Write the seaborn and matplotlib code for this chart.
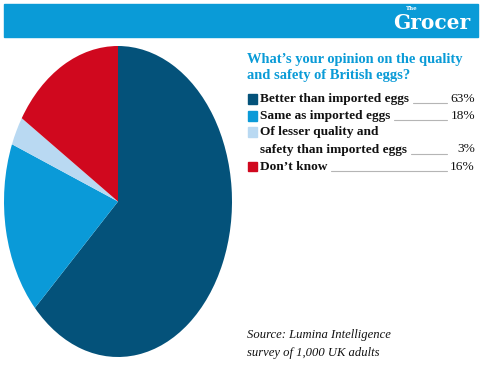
import matplotlib
matplotlib.use("Agg")
import matplotlib.pyplot as plt
import seaborn as sns
from matplotlib.lines import Line2D
from matplotlib.patches import Rectangle

# data
labels = ["Better than imported eggs", "Same as imported eggs",
          "Of lesser quality and\nsafety than imported eggs", "Don\u2019t know"]
values = [63, 18, 3, 16]
pct_labels = ["63%", "18%", "3%", "16%"]
title = "What\u2019s your opinion on the quality\nand safety of British eggs?"
source = "Source: Lumina Intelligence\nsurvey of 1,000 UK adults"

sns.set_style("white")
colors = sns.color_palette(["#04527a", "#0a9ad8", "#b9d9f2", "#d0081e"])
cyan = "#0a9bd7"

W, H = 480, 368
fig = plt.figure(figsize=(W / 100, H / 100), dpi=100)

def fx(x):
    return x / W

def fy(y):
    return 1 - y / H

renderer = fig.canvas.get_renderer()

def fit(t, width):
    w = t.get_window_extent(renderer).width
    t.set_fontsize(t.get_fontsize() * width / w)

# banner
fig.patches.append(Rectangle((fx(4), fy(37)), fx(474), 33 / H, transform=fig.transFigure,
                             color=cyan, zorder=0))
g = fig.text(fx(432), fy(23), "Grocer", color="white", fontsize=17, fontweight="bold",
             family="DejaVu Serif", ha="center", va="center")
fit(g, 77)
fig.text(fx(412), fy(8.5), "The", color="white", fontsize=4, fontweight="bold",
         family="DejaVu Serif", ha="center", va="center")

# pie (elliptical)
ax = fig.add_axes([fx(4), 1 - 357 / H, 228 / W, 311 / H])
ax.pie(values, colors=colors, startangle=90, counterclock=False, radius=1,
       wedgeprops=dict(linewidth=0))
ax.set_aspect("auto")
ax.set_xlim(-1, 1)
ax.set_ylim(-1, 1)
ax.axis("off")

# title
t1 = fig.text(fx(247), fy(59), title.split("\n")[0], color=cyan, fontsize=11,
              fontweight="bold", family="Liberation Serif", va="center")
fit(t1, 217)
fig.text(fx(247), fy(75), title.split("\n")[1], color=cyan, fontsize=t1.get_fontsize(),
         fontweight="bold", family="Liberation Serif", va="center")

# legend
rows = [99, 116, 132, 167]
sizes = None
for lab, pct, c, y in zip(labels, pct_labels, colors, rows):
    fig.patches.append(Rectangle((fx(248), fy(y + 4.5)), 9 / W, 9 / H,
                                 transform=fig.transFigure, color=c))
    lines = lab.split("\n")
    for i, line in enumerate(lines):
        t = fig.text(fx(260), fy(y + 17.5 * i), line, fontsize=10, fontweight="bold",
                     family="Liberation Serif", va="center", color="#111111")
        if sizes is None:
            fit(t, 150)
            sizes = t.get_fontsize()
        t.set_fontsize(sizes)
    ly = y + 17.5 * (len(lines) - 1)
    end = t.get_window_extent(renderer).x1
    fig.add_artist(Line2D([fx(end + 4), fx(447)], [fy(ly + 4), fy(ly + 4)],
                          transform=fig.transFigure, color="#b5b5b5", lw=0.8))
    fig.text(fx(475), fy(ly), pct, fontsize=sizes, family="Liberation Serif",
             ha="right", va="center", color="#111111")

# source
s1 = fig.text(fx(247), fy(335), source.split("\n")[0], fontsize=10, style="italic",
              family="Liberation Serif", va="center", color="#111111")
fit(s1, 143)
fig.text(fx(247), fy(353), source.split("\n")[1], fontsize=s1.get_fontsize(),
         style="italic", family="Liberation Serif", va="center", color="#111111")

fig.savefig("out.png", dpi=100)
